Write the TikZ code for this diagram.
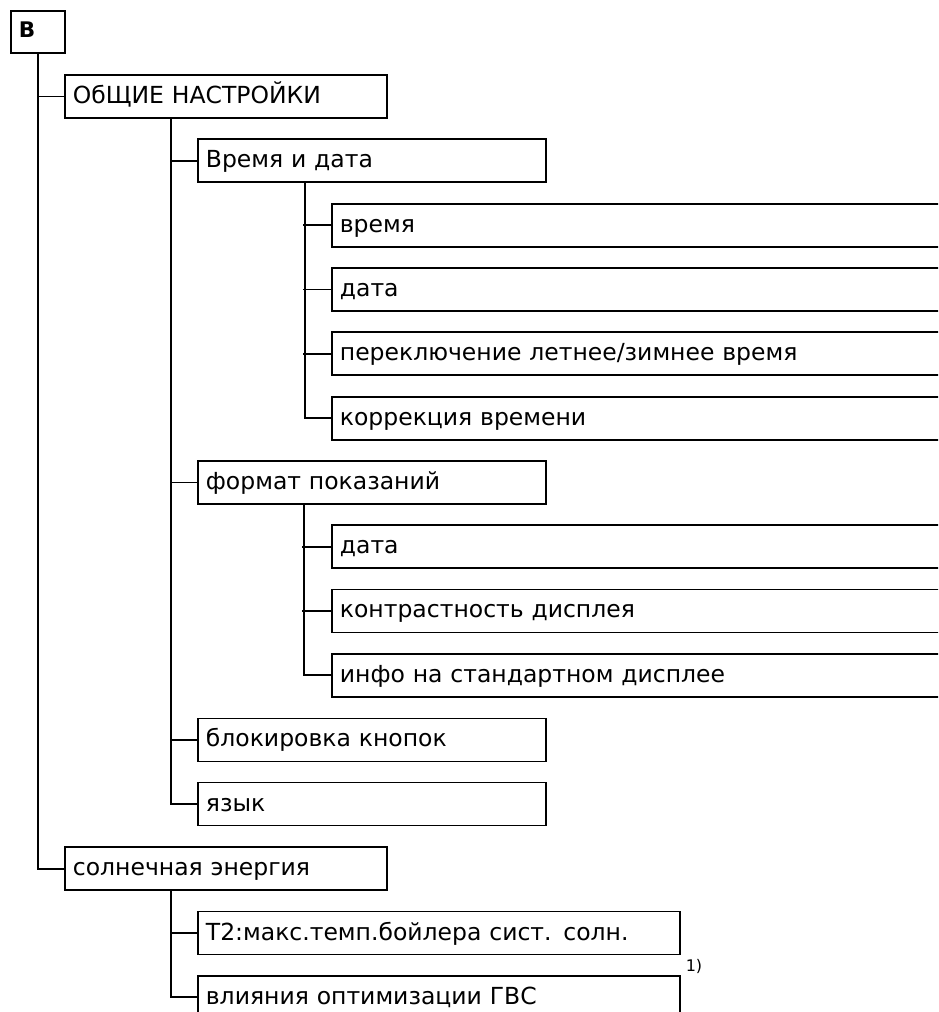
\documentclass[tikz,border=0pt]{standalone}
\usepackage{fontspec}
\setmainfont{DejaVu Sans}
\usetikzlibrary{calc}
\newcommand\mainfs{\fontsize{23.5}{28}\selectfont}
\newcommand\bfs{\fontsize{21.5}{24}\selectfont\bfseries}
\newcommand\notefs{\fontsize{16}{18}\selectfont}
\begin{document}
\begin{tikzpicture}[x=1pt,y=-1pt,
  box/.style={draw, line width=1.8pt, anchor=north west, minimum height=43pt,
    inner xsep=8pt, inner ysep=0pt, text height=17pt, text depth=3pt,
    align=left, font=\mainfs},
  wA/.style={box, text width=306pt},
  wB/.style={box, text width=332pt},
  wBw/.style={box, text width=466pt},
  wC/.style={box, text width=633pt},
  link/.style={line width=1.8pt}]
\useasboundingbox (0,0) rectangle (938,1012);
\clip (0,0) rectangle (938,1012);
% root
\node[box, font=\bfs, minimum height=42pt, text width=38pt,
  text height=15pt, text depth=3.6pt] (B) at (10,10) {B};
% level 1
\node[wA] (gen) at (64,74) {ОбЩИЕ НАСТРОЙКИ};
\node[wA] (sol) at (64,846.2) {солнечная энергия};
% level 2
\node[wB] (tid) at (197,138.4) {Время и дата};
\node[wB] (fmt) at (197,460.1) {формат показаний};
\node[wB] (lock) at (197,717.5) {блокировка кнопок};
\node[wB] (lang) at (197,781.6) {язык};
\node[wBw] (s1) at (197,910.6) {T2:макс.темп.бойлера сист. солн.};
\node[wBw] (s2) at (197,974.9) {влияния оптимизации ГВС};
% level 3
\node[wC] (t1) at (331,202.7) {время};
\node[wC] (t2) at (331,267.1) {дата};
\node[wC] (t3) at (331,331.4) {переключение летнее/зимнее время};
\node[wC] (t4) at (331,395.8) {коррекция времени};
\node[wC] (f1) at (331,524.2) {дата};
\node[wC] (f2) at (331,588.5) {контрастность дисплея};
\node[wC] (f3) at (331,652.8) {инфо на стандартном дисплее};
% footnote mark
\node[font=\notefs, inner sep=0pt] (fn) at (694,966) {1)};
% connectors
\draw[link] (B.south) |- (gen.west);
\draw[link] (B.south) |- (sol.west);
\foreach \c in {tid,fmt,lock,lang}
  \draw[link] ([xshift=107pt]gen.south west) |- (\c.west);
\coordinate (tv) at ([xshift=108pt]tid.south west);
\draw[link] (tv) |- (t4.west);
\foreach \c in {t1,t2,t3}
  \draw[link] ($(tv |- \c.west)+(-2pt,0)$) -- (\c.west);
\coordinate (fv) at ([xshift=107pt]fmt.south west);
\draw[link] (fv) |- (f3.west);
\foreach \c in {f1,f2}
  \draw[link] ($(fv |- \c.west)+(-2pt,0)$) -- (\c.west);
\foreach \c in {s1,s2}
  \draw[link] ([xshift=107pt]sol.south west) |- (\c.west);
\end{tikzpicture}
\end{document}
